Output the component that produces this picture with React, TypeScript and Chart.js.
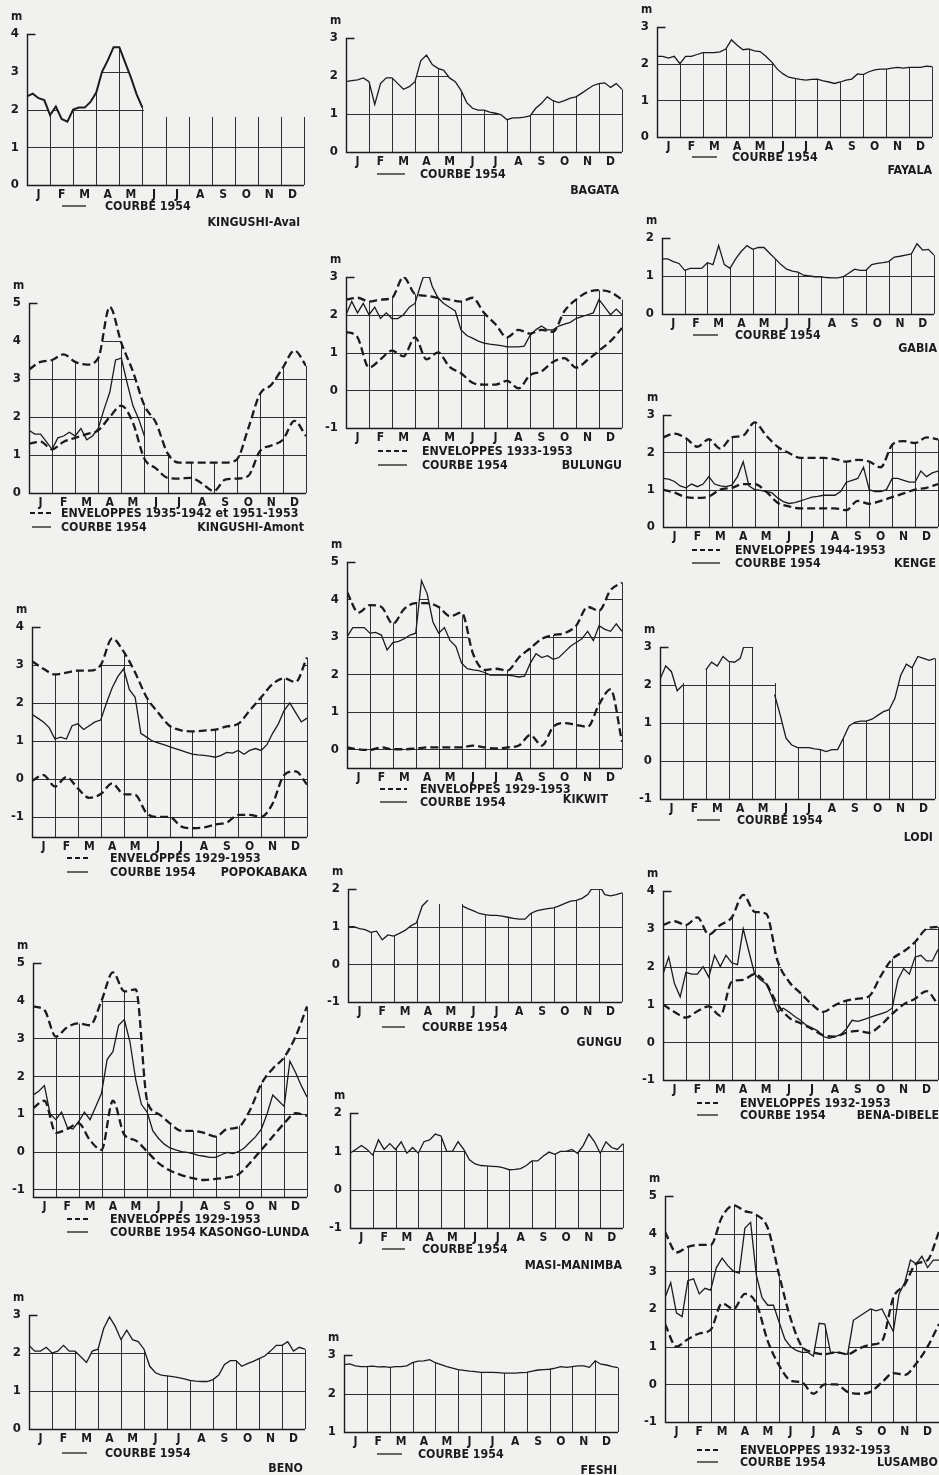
import React, { useEffect, useRef } from 'react';
import { Chart, registerables } from 'chart.js';

Chart.register(...registerables);

// ---------- tick labels ----------
const MONTHS = ['J', 'F', 'M', 'A', 'M', 'J', 'J', 'A', 'S', 'O', 'N', 'D'];

// ---------- data (curves: 49 values = quarter-month steps; envelopes: 25 values = half-month steps) ----------
const KINGUSHI_AVAL_1954 = [2.35, 2.42, 2.3, 2.25, 1.85, 2.08, 1.75, 1.68, 2.0, 2.05, 2.05, 2.2, 2.45, 3.0, 3.3, 3.65, 3.65, 3.25, 2.85, 2.4, 2.05,
  null, null, null, null, null, null, null, null, null, null, null, null, null, null, null, null, null, null, null, null, null, null, null, null, null, null, null, null];

const KINGUSHI_AMONT_1954 = [1.65, 1.55, 1.55, 1.35, 1.15, 1.45, 1.5, 1.6, 1.5, 1.7, 1.4, 1.5, 1.7, 2.2, 2.65, 3.5, 3.55, 2.9, 2.3, 1.95, 1.5,
  null, null, null, null, null, null, null, null, null, null, null, null, null, null, null, null, null, null, null, null, null, null, null, null, null, null, null, null];
const KINGUSHI_AMONT_ENV_HIGH = [3.25, 3.45, 3.5, 3.65, 3.45, 3.38, 3.55, 4.9, 3.95, 3.2, 2.3, 1.85, 1.05, 0.8, 0.8, 0.8, 0.8, 0.8, 0.88, 1.7, 2.6, 2.85, 3.3, 3.75, 3.35];
const KINGUSHI_AMONT_ENV_LOW = [1.3, 1.35, 1.15, 1.35, 1.45, 1.55, 1.65, 2.0, 2.3, 1.85, 0.9, 0.65, 0.4, 0.38, 0.4, 0.25, 0.05, 0.35, 0.38, 0.45, 1.1, 1.25, 1.4, 1.9, 1.5];

const POPOKABAKA_1954 = [1.7, 1.6, 1.5, 1.35, 1.05, 1.1, 1.05, 1.4, 1.45, 1.3, 1.4, 1.5, 1.55, 2.0, 2.4, 2.7, 2.9, 2.35, 2.15, 1.2, 1.1, 1.0, 0.95, 0.9, 0.85,
  0.8, 0.75, 0.7, 0.65, 0.63, 0.62, 0.6, 0.57, 0.62, 0.7, 0.68, 0.75, 0.65, 0.75, 0.8, 0.75, 0.9, 1.2, 1.45, 1.8, 2.0, 1.75, 1.5, 1.6];
const POPOKABAKA_ENV_HIGH = [3.1, 2.9, 2.75, 2.8, 2.85, 2.85, 3.0, 3.7, 3.35, 2.8, 2.15, 1.75, 1.4, 1.28, 1.25, 1.27, 1.3, 1.38, 1.45, 1.8, 2.15, 2.5, 2.65, 2.55, 3.2];
const POPOKABAKA_ENV_LOW = [-0.05, 0.1, -0.2, 0.05, -0.25, -0.5, -0.4, -0.12, -0.4, -0.42, -0.9, -1.0, -1.0, -1.25, -1.3, -1.28, -1.2, -1.15, -0.95, -0.95, -1.0, -0.65, 0.1, 0.2, -0.15];

const KASONGO_LUNDA_1954 = [1.5, 1.6, 1.75, 1.0, 0.85, 1.05, 0.65, 0.6, 0.8, 1.05, 0.85, 1.2, 1.55, 2.45, 2.65, 3.35, 3.5, 2.9, 1.9, 1.25, 1.05, 0.55, 0.35, 0.2, 0.1,
  0.05, 0.0, -0.02, -0.05, -0.1, -0.12, -0.15, -0.15, -0.08, -0.02, -0.05, 0.0, 0.1, 0.25, 0.4, 0.6, 1.0, 1.5, 1.35, 1.2, 2.4, 2.1, 1.75, 1.45];
const KASONGO_LUNDA_ENV_HIGH = [3.85, 3.75, 3.05, 3.3, 3.4, 3.35, 4.0, 4.75, 4.25, 4.3, 1.35, 1.0, 0.75, 0.55, 0.55, 0.5, 0.4, 0.6, 0.65, 1.1, 1.8, 2.2, 2.5, 3.05, 3.85];
const KASONGO_LUNDA_ENV_LOW = [1.15, 1.35, 0.5, 0.6, 0.75, 0.3, 0.05, 1.35, 0.45, 0.3, 0.0, -0.3, -0.5, -0.62, -0.7, -0.75, -0.72, -0.68, -0.6, -0.3, 0.05, 0.4, 0.75, 1.02, 0.95];

const BENO_1954 = [2.2, 2.05, 2.05, 2.15, 2.0, 2.05, 2.2, 2.05, 2.05, 1.9, 1.75, 2.05, 2.1, 2.65, 2.95, 2.7, 2.35, 2.6, 2.35, 2.3, 2.1, 1.65, 1.48, 1.42, 1.4,
  1.38, 1.35, 1.32, 1.28, 1.26, 1.25, 1.25, 1.3, 1.42, 1.7, 1.8, 1.8, 1.65, 1.72, 1.78, 1.85, 1.92, 2.05, 2.2, 2.2, 2.3, 2.05, 2.15, 2.1];

const BAGATA_1954 = [1.85, 1.88, 1.9, 1.95, 1.85, 1.25, 1.8, 1.95, 1.95, 1.8, 1.65, 1.72, 1.85, 2.4, 2.55, 2.3, 2.2, 2.15, 1.95, 1.85, 1.62, 1.3, 1.15, 1.1, 1.1,
  1.05, 1.02, 0.98, 0.85, 0.9, 0.9, 0.92, 0.95, 1.15, 1.28, 1.45, 1.35, 1.3, 1.35, 1.42, 1.45, 1.55, 1.65, 1.75, 1.8, 1.82, 1.7, 1.8, 1.65];

const BULUNGU_1954 = [2.0, 2.35, 2.05, 2.3, 2.0, 2.2, 1.9, 2.05, 1.9, 1.9, 2.0, 2.2, 2.3, 2.8, 3.25, 2.75, 2.45, 2.3, 2.2, 2.1, 1.6, 1.45, 1.38, 1.3, 1.25,
  1.22, 1.2, 1.18, 1.15, 1.15, 1.15, 1.17, 1.45, 1.6, 1.7, 1.6, 1.6, 1.7, 1.75, 1.8, 1.9, 1.95, 2.0, 2.05, 2.4, 2.2, 2.0, 2.15, 2.0];
const BULUNGU_ENV_HIGH = [2.4, 2.45, 2.35, 2.4, 2.45, 3.0, 2.55, 2.5, 2.45, 2.4, 2.35, 2.45, 2.05, 1.75, 1.4, 1.6, 1.5, 1.6, 1.55, 2.1, 2.4, 2.6, 2.65, 2.6, 2.4];
const BULUNGU_ENV_LOW = [1.55, 1.4, 0.6, 0.82, 1.05, 0.9, 1.4, 0.82, 1.0, 0.62, 0.45, 0.2, 0.15, 0.15, 0.25, 0.05, 0.4, 0.5, 0.75, 0.85, 0.6, 0.8, 1.05, 1.3, 1.65];

const KIKWIT_1954 = [3.0, 3.25, 3.25, 3.25, 3.1, 3.12, 3.05, 2.65, 2.85, 2.88, 2.95, 3.05, 3.1, 4.5, 4.15, 3.4, 3.1, 3.25, 2.9, 2.75, 2.3, 2.15, 2.12, 2.1, 2.05,
  1.98, 1.98, 1.98, 1.98, 1.96, 1.93, 1.95, 2.3, 2.55, 2.45, 2.5, 2.4, 2.45, 2.6, 2.75, 2.85, 2.95, 3.15, 2.9, 3.3, 3.2, 3.15, 3.35, 3.15];
const KIKWIT_ENV_HIGH = [4.2, 3.65, 3.85, 3.8, 3.35, 3.75, 3.9, 3.9, 3.8, 3.55, 3.65, 2.55, 2.12, 2.15, 2.1, 2.45, 2.7, 2.95, 3.05, 3.1, 3.3, 3.8, 3.7, 4.25, 4.45];
const KIKWIT_ENV_LOW = [0.05, 0.0, -0.02, 0.05, 0.0, 0.0, 0.02, 0.05, 0.05, 0.05, 0.05, 0.1, 0.05, 0.02, 0.05, 0.1, 0.38, 0.1, 0.6, 0.7, 0.65, 0.6, 1.2, 1.6, 0.2];

const GUNGU_1954 = [1.0, 1.0, 0.95, 0.92, 0.85, 0.88, 0.65, 0.78, 0.75, 0.82, 0.9, 1.02, 1.1, 1.55, 1.7, null, null, null, null, null, 1.55, 1.48, 1.42, 1.35, 1.32,
  1.3, 1.3, 1.28, 1.25, 1.22, 1.2, 1.2, 1.35, 1.42, 1.45, 1.48, 1.5, 1.55, 1.62, 1.68, 1.7, 1.75, 1.85, 2.08, 2.1, 1.85, 1.82, 1.85, 1.9];

const MASI_MANIMBA_1954 = [0.95, 1.05, 1.15, 1.05, 0.9, 1.3, 1.05, 1.2, 1.05, 1.25, 0.95, 1.1, 0.95, 1.25, 1.3, 1.45, 1.4, 1.0, 1.0, 1.25, 1.05, 0.78, 0.67, 0.63, 0.62,
  0.61, 0.6, 0.57, 0.52, 0.53, 0.55, 0.63, 0.75, 0.75, 0.88, 0.98, 0.92, 1.0, 1.0, 1.05, 0.95, 1.15, 1.45, 1.25, 0.95, 1.25, 1.1, 1.05, 1.2];

const FESHI_1954 = [2.75, 2.77, 2.72, 2.7, 2.7, 2.71, 2.69, 2.7, 2.68, 2.7, 2.7, 2.72, 2.8, 2.84, 2.85, 2.88, 2.8, 2.75, 2.7, 2.66, 2.62, 2.6, 2.58, 2.57, 2.55,
  2.55, 2.55, 2.54, 2.53, 2.53, 2.53, 2.54, 2.55, 2.58, 2.61, 2.62, 2.63, 2.66, 2.7, 2.68, 2.7, 2.72, 2.72, 2.68, 2.85, 2.76, 2.74, 2.7, 2.67];

const FAYALA_1954 = [2.2, 2.2, 2.15, 2.2, 2.0, 2.2, 2.2, 2.25, 2.3, 2.3, 2.3, 2.32, 2.4, 2.65, 2.5, 2.38, 2.4, 2.35, 2.33, 2.2, 2.05, 1.85, 1.72, 1.63, 1.6,
  1.57, 1.55, 1.57, 1.58, 1.53, 1.5, 1.46, 1.5, 1.55, 1.58, 1.72, 1.7, 1.78, 1.83, 1.85, 1.85, 1.88, 1.9, 1.88, 1.9, 1.9, 1.9, 1.93, 1.92];

const GABIA_1954 = [1.45, 1.45, 1.38, 1.33, 1.15, 1.2, 1.2, 1.2, 1.35, 1.3, 1.8, 1.3, 1.2, 1.45, 1.65, 1.8, 1.7, 1.75, 1.75, 1.6, 1.45, 1.3, 1.18, 1.13, 1.1,
  1.02, 1.0, 0.98, 0.98, 0.96, 0.95, 0.95, 0.98, 1.08, 1.18, 1.15, 1.15, 1.3, 1.33, 1.35, 1.38, 1.5, 1.52, 1.55, 1.58, 1.85, 1.68, 1.7, 1.55];

const KENGE_1954 = [1.3, 1.28, 1.22, 1.1, 1.05, 1.15, 1.08, 1.15, 1.35, 1.15, 1.1, 1.08, 1.12, 1.35, 1.75, 1.1, 1.0, 0.98, 0.95, 0.92, 0.78, 0.68, 0.63, 0.65, 0.7,
  0.75, 0.8, 0.82, 0.85, 0.85, 0.85, 0.95, 1.2, 1.25, 1.3, 1.6, 1.0, 0.95, 0.95, 1.0, 1.3, 1.3, 1.25, 1.2, 1.2, 1.5, 1.35, 1.45, 1.5];
const KENGE_ENV_HIGH = [2.4, 2.5, 2.38, 2.15, 2.35, 2.1, 2.4, 2.45, 2.8, 2.45, 2.15, 1.98, 1.85, 1.85, 1.85, 1.82, 1.75, 1.8, 1.75, 1.6, 2.2, 2.3, 2.25, 2.4, 2.35];
const KENGE_ENV_LOW = [1.0, 0.92, 0.8, 0.78, 0.82, 1.0, 1.05, 1.15, 1.15, 0.95, 0.65, 0.55, 0.5, 0.5, 0.5, 0.5, 0.45, 0.7, 0.62, 0.7, 0.8, 0.9, 1.0, 1.05, 1.15];

const LODI_1954 = [2.15, 2.5, 2.35, 1.85, 2.0, null, null, null, 2.4, 2.6, 2.5, 2.75, 2.62, 2.6, 2.7, 3.2, 3.0, null, null, null, 1.75, 1.2, 0.6, 0.42, 0.35,
  0.35, 0.35, 0.32, 0.3, 0.25, 0.3, 0.3, 0.6, 0.92, 1.02, 1.05, 1.05, 1.1, 1.2, 1.3, 1.35, 1.65, 2.25, 2.55, 2.45, 2.75, 2.7, 2.65, 2.7];

const BENA_DIBELE_1954 = [1.8, 2.25, 1.55, 1.2, 1.85, 1.8, 1.8, 2.0, 1.72, 2.3, 2.0, 2.3, 2.1, 2.05, 3.0, 2.4, 1.8, 1.65, 1.55, 1.2, 0.8, 0.9, 0.8, 0.68, 0.58,
  0.45, 0.38, 0.3, 0.15, 0.1, 0.15, 0.2, 0.35, 0.58, 0.55, 0.6, 0.65, 0.7, 0.75, 0.8, 0.9, 1.65, 1.95, 1.8, 2.25, 2.3, 2.15, 2.15, 2.45];
const BENA_DIBELE_ENV_HIGH = [3.1, 3.2, 3.1, 3.3, 2.85, 3.1, 3.3, 3.9, 3.45, 3.4, 2.15, 1.6, 1.3, 1.0, 0.8, 0.98, 1.1, 1.15, 1.22, 1.75, 2.2, 2.4, 2.65, 3.0, 3.05];
const BENA_DIBELE_ENV_LOW = [1.0, 0.8, 0.65, 0.82, 0.95, 0.7, 1.6, 1.65, 1.8, 1.55, 1.0, 0.65, 0.5, 0.35, 0.18, 0.15, 0.25, 0.3, 0.25, 0.45, 0.75, 1.0, 1.15, 1.35, 1.0];

const LUSAMBO_1954 = [2.3, 2.7, 1.9, 1.8, 2.75, 2.8, 2.4, 2.55, 2.5, 3.1, 3.35, 3.15, 3.0, 2.95, 4.15, 4.3, 2.9, 2.3, 2.1, 2.1, 1.65, 1.2, 1.0, 0.9, 0.85,
  0.85, 0.75, 1.62, 1.6, 0.85, 0.85, 0.82, 0.8, 1.7, 1.8, 1.9, 2.0, 1.95, 2.0, 1.7, 1.4, 2.4, 2.7, 3.3, 3.2, 3.4, 3.1, 3.3, 3.3];
const LUSAMBO_ENV_HIGH = [4.05, 3.5, 3.65, 3.7, 3.7, 4.45, 4.75, 4.6, 4.5, 4.15, 2.9, 1.75, 1.0, 0.85, 0.8, 0.85, 0.8, 0.95, 1.05, 1.15, 2.3, 2.65, 3.2, 3.3, 4.05];
const LUSAMBO_ENV_LOW = [1.6, 1.0, 1.2, 1.35, 1.45, 2.15, 2.0, 2.4, 2.15, 1.15, 0.5, 0.1, 0.05, -0.25, 0.0, 0.0, -0.2, -0.25, -0.2, 0.05, 0.3, 0.25, 0.55, 1.0, 1.6];

// ---------- styling ----------
const FONT = "'DejaVu Sans Condensed', 'Liberation Sans Narrow', 'DejaVu Sans', 'Liberation Sans', sans-serif";
const INK = '#1b1b1b';
const GRID = '#303030';
const BG = '#f1f1ef';

type Series = { values: (number | null)[]; dashed?: boolean; width?: number };
type LegendRow = { kind: 'dash' | 'solid'; y: number; x1: number; x2: number; tx: number; text: string };
type PanelDef = {
  name: string; nameRight: number; nameY: number;
  left: number; right: number; top: number; bottom: number;
  yMin: number; yMax: number; gapTop?: number;
  series: Series[]; legend: LegendRow[];
};

const courbe = (values: (number | null)[], width = 1.3): Series => ({ values, width });
const env = (values: (number | null)[]): Series => ({ values, dashed: true });

const PANELS: PanelDef[] = [
  {
    name: 'KINGUSHI-Aval', nameRight: 300, nameY: 222, left: 27, right: 304, top: 34, bottom: 185, yMin: 0, yMax: 4, gapTop: 1.8,
    series: [courbe(KINGUSHI_AVAL_1954, 2)],
    legend: [{ kind: 'solid', y: 206, x1: 62, x2: 86, tx: 105, text: 'COURBE 1954' }],
  },
  {
    name: 'KINGUSHI-Amont', nameRight: 304, nameY: 527, left: 29, right: 306, top: 303, bottom: 493, yMin: 0, yMax: 5,
    series: [env(KINGUSHI_AMONT_ENV_HIGH), env(KINGUSHI_AMONT_ENV_LOW), courbe(KINGUSHI_AMONT_1954)],
    legend: [
      { kind: 'dash', y: 513, x1: 30, x2: 51, tx: 61, text: 'ENVELOPPES 1935-1942 et 1951-1953' },
      { kind: 'solid', y: 527, x1: 32, x2: 51, tx: 61, text: 'COURBE 1954' },
    ],
  },
  {
    name: 'POPOKABAKA', nameRight: 307, nameY: 872, left: 32, right: 307, top: 627, bottom: 837, yMin: -1.53, yMax: 4,
    series: [env(POPOKABAKA_ENV_HIGH), env(POPOKABAKA_ENV_LOW), courbe(POPOKABAKA_1954)],
    legend: [
      { kind: 'dash', y: 858, x1: 67, x2: 88, tx: 110, text: 'ENVELOPPES 1929-1953' },
      { kind: 'solid', y: 872, x1: 67, x2: 88, tx: 110, text: 'COURBE 1954' },
    ],
  },
  {
    name: 'KASONGO-LUNDA', nameRight: 309, nameY: 1232, left: 33, right: 307, top: 963, bottom: 1197, yMin: -1.2, yMax: 5,
    series: [env(KASONGO_LUNDA_ENV_HIGH), env(KASONGO_LUNDA_ENV_LOW), courbe(KASONGO_LUNDA_1954)],
    legend: [
      { kind: 'dash', y: 1219, x1: 67, x2: 88, tx: 110, text: 'ENVELOPPES 1929-1953' },
      { kind: 'solid', y: 1232, x1: 67, x2: 88, tx: 110, text: 'COURBE 1954' },
    ],
  },
  {
    name: 'BENO', nameRight: 303, nameY: 1468, left: 29, right: 305, top: 1315, bottom: 1429, yMin: 0, yMax: 3,
    series: [courbe(BENO_1954)],
    legend: [{ kind: 'solid', y: 1453, x1: 62, x2: 87, tx: 105, text: 'COURBE 1954' }],
  },
  {
    name: 'BAGATA', nameRight: 619, nameY: 190, left: 346, right: 622, top: 38, bottom: 152, yMin: 0, yMax: 3,
    series: [courbe(BAGATA_1954)],
    legend: [{ kind: 'solid', y: 174, x1: 377, x2: 405, tx: 420, text: 'COURBE 1954' }],
  },
  {
    name: 'BULUNGU', nameRight: 622, nameY: 465, left: 346, right: 622, top: 277, bottom: 428, yMin: -1, yMax: 3,
    series: [env(BULUNGU_ENV_HIGH), env(BULUNGU_ENV_LOW), courbe(BULUNGU_1954)],
    legend: [
      { kind: 'dash', y: 451, x1: 378, x2: 407, tx: 422, text: 'ENVELOPPES 1933-1953' },
      { kind: 'solid', y: 465, x1: 378, x2: 407, tx: 422, text: 'COURBE 1954' },
    ],
  },
  {
    name: 'KIKWIT', nameRight: 608, nameY: 799, left: 347, right: 622, top: 562, bottom: 768, yMin: -0.5, yMax: 5,
    series: [env(KIKWIT_ENV_HIGH), env(KIKWIT_ENV_LOW), courbe(KIKWIT_1954)],
    legend: [
      { kind: 'dash', y: 789, x1: 380, x2: 407, tx: 420, text: 'ENVELOPPES 1929-1953' },
      { kind: 'solid', y: 802, x1: 380, x2: 407, tx: 420, text: 'COURBE 1954' },
    ],
  },
  {
    name: 'GUNGU', nameRight: 622, nameY: 1042, left: 348, right: 622, top: 889, bottom: 1002, yMin: -1, yMax: 2, gapTop: 1.6,
    series: [courbe(GUNGU_1954)],
    legend: [{ kind: 'solid', y: 1027, x1: 382, x2: 405, tx: 422, text: 'COURBE 1954' }],
  },
  {
    name: 'MASI-MANIMBA', nameRight: 622, nameY: 1265, left: 350, right: 623, top: 1113, bottom: 1228, yMin: -1, yMax: 2,
    series: [courbe(MASI_MANIMBA_1954)],
    legend: [{ kind: 'solid', y: 1249, x1: 382, x2: 405, tx: 422, text: 'COURBE 1954' }],
  },
  {
    name: 'FESHI', nameRight: 617, nameY: 1470, left: 344, right: 618, top: 1355, bottom: 1432, yMin: 1, yMax: 3,
    series: [courbe(FESHI_1954)],
    legend: [{ kind: 'solid', y: 1454, x1: 377, x2: 402, tx: 418, text: 'COURBE 1954' }],
  },
  {
    name: 'FAYALA', nameRight: 932, nameY: 170, left: 657, right: 932, top: 27, bottom: 137, yMin: 0, yMax: 3,
    series: [courbe(FAYALA_1954)],
    legend: [{ kind: 'solid', y: 157, x1: 692, x2: 717, tx: 732, text: 'COURBE 1954' }],
  },
  {
    name: 'GABIA', nameRight: 937, nameY: 348, left: 662, right: 934, top: 238, bottom: 314, yMin: 0, yMax: 2,
    series: [courbe(GABIA_1954)],
    legend: [{ kind: 'solid', y: 335, x1: 693, x2: 718, tx: 735, text: 'COURBE 1954' }],
  },
  {
    name: 'KENGE', nameRight: 936, nameY: 563, left: 663, right: 938, top: 415, bottom: 527, yMin: 0, yMax: 3,
    series: [env(KENGE_ENV_HIGH), env(KENGE_ENV_LOW), courbe(KENGE_1954)],
    legend: [
      { kind: 'dash', y: 550, x1: 692, x2: 720, tx: 735, text: 'ENVELOPPES 1944-1953' },
      { kind: 'solid', y: 563, x1: 692, x2: 720, tx: 735, text: 'COURBE 1954' },
    ],
  },
  {
    name: 'LODI', nameRight: 933, nameY: 837, left: 660, right: 935, top: 647, bottom: 799, yMin: -1, yMax: 3, gapTop: 2.05,
    series: [courbe(LODI_1954)],
    legend: [{ kind: 'solid', y: 820, x1: 697, x2: 720, tx: 737, text: 'COURBE 1954' }],
  },
  {
    name: 'BENA-DIBELE', nameRight: 939, nameY: 1115, left: 663, right: 938, top: 891, bottom: 1080, yMin: -1, yMax: 4,
    series: [env(BENA_DIBELE_ENV_HIGH), env(BENA_DIBELE_ENV_LOW), courbe(BENA_DIBELE_1954)],
    legend: [
      { kind: 'dash', y: 1103, x1: 697, x2: 718, tx: 740, text: 'ENVELOPPES 1932-1953' },
      { kind: 'solid', y: 1115, x1: 697, x2: 718, tx: 740, text: 'COURBE 1954' },
    ],
  },
  {
    name: 'LUSAMBO', nameRight: 938, nameY: 1462, left: 665, right: 939, top: 1196, bottom: 1422, yMin: -1, yMax: 5,
    series: [env(LUSAMBO_ENV_HIGH), env(LUSAMBO_ENV_LOW), courbe(LUSAMBO_1954)],
    legend: [
      { kind: 'dash', y: 1450, x1: 697, x2: 718, tx: 740, text: 'ENVELOPPES 1932-1953' },
      { kind: 'solid', y: 1462, x1: 697, x2: 718, tx: 740, text: 'COURBE 1954' },
    ],
  },
];

// ---------- plugin: grid drawn only under the curves, plus axes ----------
const underGridPlugin = {
  id: 'underGrid',
  beforeDatasetsDraw(chart: any, _args: any, opts: any) {
    const { ctx, chartArea } = chart;
    const xs = chart.scales.x;
    const ys = chart.scales.y;
    const { left, right, top, bottom } = chartArea;
    const X = (v: number) => xs.getPixelForValue(v);
    const Y = (v: number) => ys.getPixelForValue(v);

    ctx.save();
    ctx.beginPath();
    for (const ds of chart.data.datasets) {
      let seg: any[] = [];
      const flush = () => {
        if (seg.length > 1) {
          const x0 = X(seg[0].x) - 1.5;
          const xn = X(seg[seg.length - 1].x) + 1.5;
          ctx.moveTo(x0, bottom);
          ctx.lineTo(x0, Y(seg[0].y));
          for (const p of seg) ctx.lineTo(X(p.x), Y(p.y));
          ctx.lineTo(xn, Y(seg[seg.length - 1].y));
          ctx.lineTo(xn, bottom);
          ctx.closePath();
        }
        seg = [];
      };
      for (const p of ds.data) {
        if (p.y === null) flush();
        else seg.push(p);
      }
      flush();
    }
    if (opts && opts.gapTop != null) {
      const data = chart.data.datasets[0].data;
      const yTop = Y(opts.gapTop);
      let start: number | null = null;
      const addGap = (a: number, b: number) => {
        const xa = X(a);
        const xb = X(b) + 1.5;
        ctx.rect(xa, yTop, xb - xa, bottom - yTop);
      };
      data.forEach((p: any, i: number) => {
        if (p.y === null && start === null) start = i > 0 ? data[i - 1].x : p.x;
        if (p.y !== null && start !== null) {
          addGap(start, p.x);
          start = null;
        }
      });
      if (start !== null) addGap(start, 12);
    }
    ctx.clip();

    ctx.beginPath();
    ctx.lineWidth = 1;
    ctx.strokeStyle = GRID;
    for (let m = 1; m <= 12; m++) {
      const px = Math.round(X(m)) + 0.5;
      ctx.moveTo(px, bottom);
      ctx.lineTo(px, top);
    }
    for (let v = Math.ceil(ys.min); v <= Math.floor(ys.max); v++) {
      const py = Math.round(Y(v)) + 0.5;
      ctx.moveTo(left, py);
      ctx.lineTo(right, py);
    }
    ctx.stroke();
    ctx.restore();

    ctx.save();
    ctx.strokeStyle = INK;
    ctx.lineWidth = 1.4;
    ctx.beginPath();
    const lx = Math.round(left) + 0.5;
    const by = Math.round(bottom) + 0.5;
    const ty = Math.round(top) + 0.5;
    ctx.moveTo(lx + 8, ty);
    ctx.lineTo(lx, ty);
    ctx.lineTo(lx, by);
    ctx.lineTo(right, by);
    ctx.stroke();
    ctx.restore();
  },
};

const PL = 34;
const PR = 6;
const PT = 18;
const PB = 22;

const textBase: React.CSSProperties = {
  position: 'absolute',
  fontFamily: FONT,
  fontWeight: 700,
  fontSize: 12.3,
  lineHeight: '14px',
  color: INK,
  whiteSpace: 'nowrap',
  letterSpacing: '0px',
};

function Panel({ p }: { p: PanelDef }) {
  const ref = useRef<HTMLCanvasElement | null>(null);
  const w = p.right - p.left + PL + PR;
  const h = p.bottom - p.top + PT + PB;

  useEffect(() => {
    if (!ref.current) return;
    const yTicks: number[] = [];
    for (let v = Math.ceil(p.yMin); v <= Math.floor(p.yMax); v++) yTicks.push(v);
    const chart = new Chart(ref.current, {
      type: 'line',
      data: {
        datasets: p.series.map((s) => ({
          data: s.values.map((v, i) => ({ x: (i * 12) / (s.values.length - 1), y: v })),
          borderColor: INK,
          borderWidth: s.dashed ? 2.3 : s.width ?? 1.3,
          borderDash: s.dashed ? [8, 4] : [],
          pointRadius: 0,
          tension: s.dashed ? 0.4 : 0,
          cubicInterpolationMode: s.dashed ? 'monotone' : 'default',
          spanGaps: false,
          fill: false,
        })) as any,
      },
      options: {
        animation: false,
        responsive: false,
        maintainAspectRatio: false,
        devicePixelRatio: 1,
        events: [],
        layout: { padding: { top: PT, right: PR, left: 0, bottom: 0 } },
        plugins: {
          legend: { display: false },
          tooltip: { enabled: false },
          underGrid: { gapTop: p.gapTop },
        } as any,
        scales: {
          x: {
            type: 'linear',
            min: 0,
            max: 12,
            grid: { display: false, drawTicks: false },
            border: { display: false },
            afterBuildTicks: (s: any) => {
              s.ticks = MONTHS.map((_, i) => ({ value: i + 0.5 }));
            },
            afterFit: (s: any) => {
              s.height = PB;
            },
            ticks: {
              autoSkip: false,
              maxRotation: 0,
              padding: 3,
              color: INK,
              font: { family: FONT, weight: 'bold', size: 12 },
              callback: (v: any) => MONTHS[Math.floor(Number(v))] ?? '',
            },
          },
          y: {
            type: 'linear',
            min: p.yMin,
            max: p.yMax,
            grid: { display: false, drawTicks: false },
            border: { display: false },
            afterBuildTicks: (s: any) => {
              s.ticks = yTicks.map((v) => ({ value: v }));
            },
            afterFit: (s: any) => {
              s.width = PL;
            },
            ticks: {
              padding: 8,
              color: INK,
              font: { family: FONT, weight: 'bold', size: 13 },
              callback: (v: any) => String(v),
            },
          },
        } as any,
      },
      plugins: [underGridPlugin as any],
    });
    return () => chart.destroy();
  }, []);

  return (
    <>
      <canvas
        ref={ref}
        width={w}
        height={h}
        style={{ position: 'absolute', left: p.left - PL, top: p.top - PT, width: w, height: h }}
      />
      <div style={{ ...textBase, fontSize: 12, left: p.left - 16, top: p.top - 25 }}>m</div>
      {p.legend.map((l, i) => (
        <React.Fragment key={i}>
          <svg
            style={{ position: 'absolute', left: l.x1, top: l.y - 2, overflow: 'visible' }}
            width={l.x2 - l.x1}
            height={4}
          >
            <line
              x1={0}
              y1={2}
              x2={l.x2 - l.x1}
              y2={2}
              stroke={INK}
              strokeWidth={l.kind === 'dash' ? 2 : 1.3}
              strokeDasharray={l.kind === 'dash' ? '5 3' : undefined}
            />
          </svg>
          <div style={{ ...textBase, left: l.tx, top: l.y - 7 }}>{l.text}</div>
        </React.Fragment>
      ))}
      <div style={{ ...textBase, right: 939 - p.nameRight, top: p.nameY - 7, textAlign: 'right' }}>{p.name}</div>
    </>
  );
}

export default function App() {
  return (
    <div
      style={{
        position: 'absolute',
        left: 0,
        top: 0,
        width: 939,
        height: 1475,
        overflow: 'hidden',
        background: BG,
      }}
    >
      {PANELS.map((p) => (
        <Panel key={p.name} p={p} />
      ))}
    </div>
  );
}
